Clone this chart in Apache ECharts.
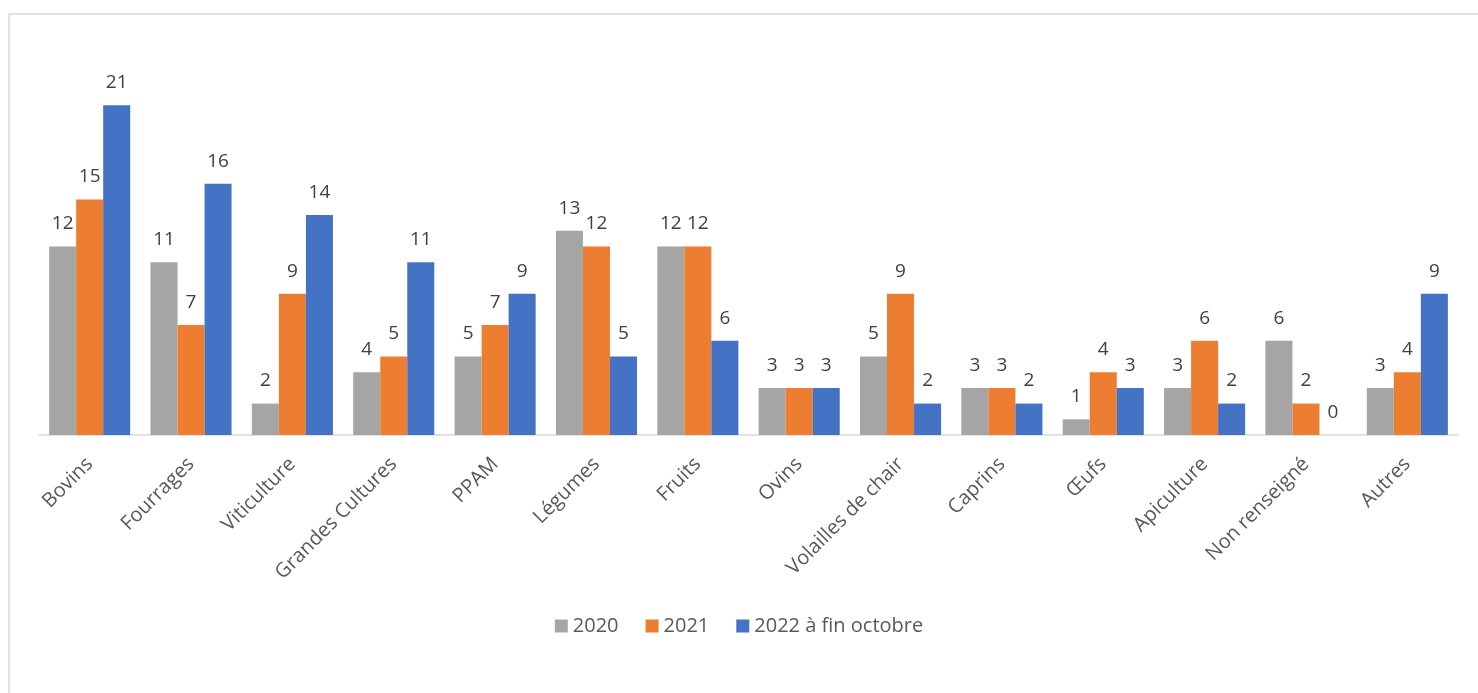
<!DOCTYPE html>
<html><head><meta charset="utf-8">
<script src="https://cdn.jsdelivr.net/npm/echarts@6/dist/echarts.min.js"></script>
<style>html,body{margin:0;padding:0;background:#fff}#c{width:1478px;height:693px}</style>
</head><body><div id="c"></div>
<script>
const categories = ["Bovins","Fourrages","Viticulture","Grandes Cultures","PPAM","Légumes","Fruits","Ovins","Volailles de chair","Caprins","Œufs","Apiculture","Non renseigné","Autres"];
const seriesNames = ["2020","2021","2022 à fin octobre"];
const values2020 = [12,11,2,4,5,13,12,3,5,3,1,3,6,3];
const values2021 = [15,7,9,5,7,12,12,3,9,3,4,6,2,4];
const values2022 = [21,16,14,11,9,5,6,3,2,2,3,2,0,9];
const colors = ["#a5a5a5","#ed7d31","#4472c4"];
const font = "'Open Sans', 'Liberation Sans', sans-serif";
const chart = echarts.init(document.getElementById('c'));
const mk = (name, data, color) => ({
  name, type:'bar', data, barGap:'0%', barCategoryGap:'20%',
  itemStyle:{color},
  label:{show:true, position:'top', distance:13, color:'#404040', fontSize:19, fontFamily:font}
});
chart.setOption({
  animation:false,
  graphic:[{type:'rect', shape:{x:9,y:14,width:1480,height:700}, style:{fill:'none', stroke:'#d9d9d9', lineWidth:1.5}, silent:true}],
  grid:{left:39, right:20, top:58, bottom:258},
  legend:{top:611, left:'center', itemWidth:13, itemHeight:13, itemGap:27, icon:'rect',
    textStyle:{color:'#595959', fontSize:20, fontFamily:font}},
  xAxis:{type:'category', data:categories,
    axisLine:{lineStyle:{color:'#d9d9d9', width:1.5}}, axisTick:{show:false},
    axisLabel:{rotate:45, interval:0, margin:26, color:'#595959', fontSize:20, fontFamily:font}},
  yAxis:{type:'value', min:0, max:24, show:false, splitLine:{show:false}},
  series:[mk(seriesNames[0], values2020, colors[0]), mk(seriesNames[1], values2021, colors[1]), mk(seriesNames[2], values2022, colors[2])]
});
</script></body></html>
